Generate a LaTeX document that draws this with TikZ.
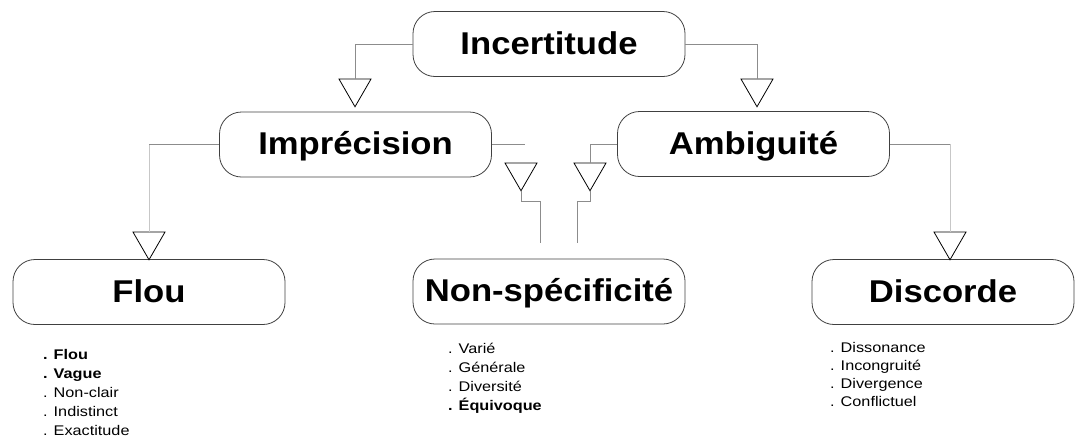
\documentclass[tikz,border=0pt]{standalone}
\usepackage{fontspec}
\setmainfont{Liberation Sans}
\newfontfamily\titlefont[FakeStretch=1.1]{Liberation Sans Bold}
\newfontfamily\itemfont[FakeStretch=1.16]{Liberation Sans}
\newfontfamily\itemboldfont[FakeStretch=1.16]{Liberation Sans Bold}
\usetikzlibrary{shapes.geometric}

\begin{document}
\begin{tikzpicture}[x=1pt,y=-1pt,
  concept/.style={draw=black!75, line width=0.8pt, rounded corners=22pt,
    minimum width=272pt, minimum height=65pt, inner sep=0pt,
    text height=26pt, text depth=6pt,
    font=\titlefont\fontsize{31.5}{36}\selectfont},
  marker/.style={draw=black, line width=0.8pt, regular polygon,
    regular polygon sides=3, shape border rotate=180, minimum size=37pt,
    inner sep=0pt, outer sep=0pt, anchor=north},
  link/.style={draw=black!45, line width=0.7pt},
  faint/.style={draw=black!22, line width=0.6pt},
  item/.style={anchor=base west, inner sep=0pt,
    font=\itemfont\fontsize{14}{16}\selectfont},
  itembold/.style={item, font=\itemboldfont\fontsize{14}{16}\selectfont},
]
\useasboundingbox (0,0) rectangle (1075,437);

% concept boxes
\node[concept] (inc)  at (549,44)    {Incertitude};
\node[concept] (imp)  at (355.5,144.5) {Imprécision};
\node[concept] (amb)  at (753.5,144) {Ambiguité};
\node[concept] (flou) at (149,292)   {Flou};
\node[concept] (nons) at (549,291.5) {Non-spécificité};
\node[concept, minimum width=262pt] (disc) at (943,292) {Discorde};

% inheritance markers
\node[marker] (t1) at (355,79)  {};
\node[marker] (t2) at (757,79)  {};
\node[marker] (t3) at (149,232) {};
\node[marker] (t4) at (521,163) {};
\node[marker] (t5) at (590,163) {};
\node[marker] (t6) at (950,232) {};

% connectors
\draw[link] (inc.west) -| (t1.north);
\draw[link] (inc.east) -| (t2.north);

\coordinate (impturn) at (imp.west -| t3.north);
\draw[link]  (imp.west) -- (impturn);
\draw[faint] (impturn) -- (t3.north);

\coordinate (impend) at (525,144.5);
\draw[link] (imp.east) -- (impend);

\draw[link] (amb.west) -| (t5.north);

\coordinate (ambturn) at (amb.east -| t6.north);
\draw[link]  (amb.east) -- (ambturn);
\draw[faint] (ambturn) -- (t6.north);

\coordinate (nl) at (540,243);
\coordinate (nr) at (577,243);
\draw[link] (t4.south) -- ++(0,11) -| (nl);
\draw[link] (t5.south) -- ++(0,11) -| (nr);

% lists of terms
\node[itembold] (f1) at (43,359) {. Flou};
\node[itembold] (f2) at (43,378) {. Vague};
\node[item]     (f3) at (43,397) {. Non-clair};
\node[item]     (f4) at (43,416) {. Indistinct};
\node[item]     (f5) at (43,435) {. Exactitude};

\node[item]     (n1) at (448,353) {. Varié};
\node[item]     (n2) at (448,372) {. Générale};
\node[item]     (n3) at (448,391) {. Diversité};
\node[itembold] (n4) at (448,410) {. Équivoque};

\node[item] (d1) at (830,352) {. Dissonance};
\node[item] (d2) at (830,370) {. Incongruité};
\node[item] (d3) at (830,388) {. Divergence};
\node[item] (d4) at (830,406) {. Conflictuel};
\end{tikzpicture}
\end{document}
